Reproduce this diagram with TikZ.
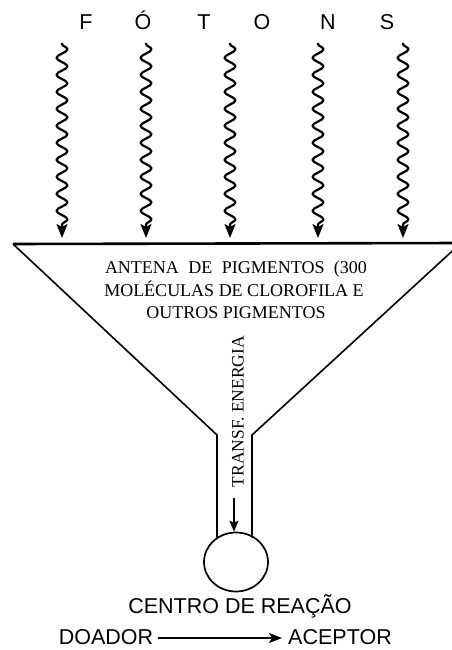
\documentclass[tikz,border=0pt]{standalone}
\usepackage{fontspec}
\setmainfont{Liberation Serif}
\newfontfamily\sansf{Liberation Sans}
\usetikzlibrary{decorations.pathmorphing,arrows.meta,shapes.geometric}
\begin{document}
\begin{tikzpicture}[x=1pt,y=-1pt,
  photon/.style={line width=2.2pt, line join=round, decorate,
    decoration={snake,segment length=17pt,amplitude=5.5pt,pre length=1pt,post length=13pt},
    -{Stealth[length=14pt,width=11pt,inset=3pt]}},
  funnelline/.style={line width=1.6pt, line join=miter},
  toplinestyle/.style={line width=2.6pt},
  sanslbl/.style={font=\sansf\fontsize{21.5}{24}\selectfont, inner sep=0pt, anchor=base},
  letterlbl/.style={font=\sansf\fontsize{21.5}{24}\selectfont, inner sep=0pt, anchor=base},
  seriflbl/.style={font=\fontsize{18}{20}\selectfont, inner sep=0pt, anchor=base},
  rclbl/.style={draw, ellipse, line width=1.7pt, minimum width=64pt, minimum height=59pt, inner sep=0pt},
  energyarrow/.style={line width=1.5pt, -{Stealth[length=11pt,width=9pt,inset=2pt]}},
  reactarrow/.style={line width=1.6pt, -{Stealth[length=13pt,width=10pt,inset=3pt]}}]
\useasboundingbox (0,0) rectangle (452,650);
\begin{scope}
\clip (0,0) rectangle (452,650);
% letters
\node[letterlbl] (l1) at (86,30) {F};
\node[letterlbl] (l2) at (143,30) {Ó};
\node[letterlbl] (l3) at (204,30) {T};
\node[letterlbl] (l4) at (262,30) {O};
\node[letterlbl] (l5) at (328,30) {N};
\node[letterlbl] (l6) at (387,30) {S};
% photons
\foreach \i/\x in {1/62,2/146,3/230,4/318,5/403}{
  \coordinate (ps\i) at (\x,43);
  \coordinate (pe\i) at (\x,238);
  \draw[photon] (ps\i) -- (pe\i);
}
% funnel
\coordinate (TL) at (13,244);
\coordinate (TR) at (461,243);
\coordinate (NL) at (217,435);
\coordinate (NR) at (252,435);
\node[rclbl] (rc) at (236,562) {};
\draw[toplinestyle] (TL) -- (TR);
\draw[funnelline] (TL) -- (NL) -- (NL |- rc.129);
\draw[funnelline] (TR) -- (NR) -- (NR |- rc.51);
% antenna text
\node[seriflbl] (t1) at (236,273) {\makebox[262pt][s]{ANTENA DE PIGMENTOS (300}};
\node[seriflbl] (t2) at (234,296) {MOLÉCULAS DE CLOROFILA E};
\node[seriflbl] (t3) at (236,318) {OUTROS PIGMENTOS};
% energy transfer
\node[font=\fontsize{17.5}{20}\selectfont, inner sep=0pt, rotate=90] (te) at (238,411.5) {TRANSF. ENERGIA};
\coordinate (ea) at (234,498);
\draw[energyarrow] (ea) -- (ea |- rc.north);
% reaction centre
\node[sanslbl] (cr) at (240,613) {CENTRO DE REAÇÃO};
\node[sanslbl] (doador) at (106,644) {DOADOR};
\node[sanslbl] (aceptor) at (340,644) {ACEPTOR};
\draw[reactarrow] ([xshift=5pt]doador.east |- 0,638) -- ([xshift=-6pt]aceptor.west |- 0,638);
\end{scope}
\end{tikzpicture}
\end{document}
